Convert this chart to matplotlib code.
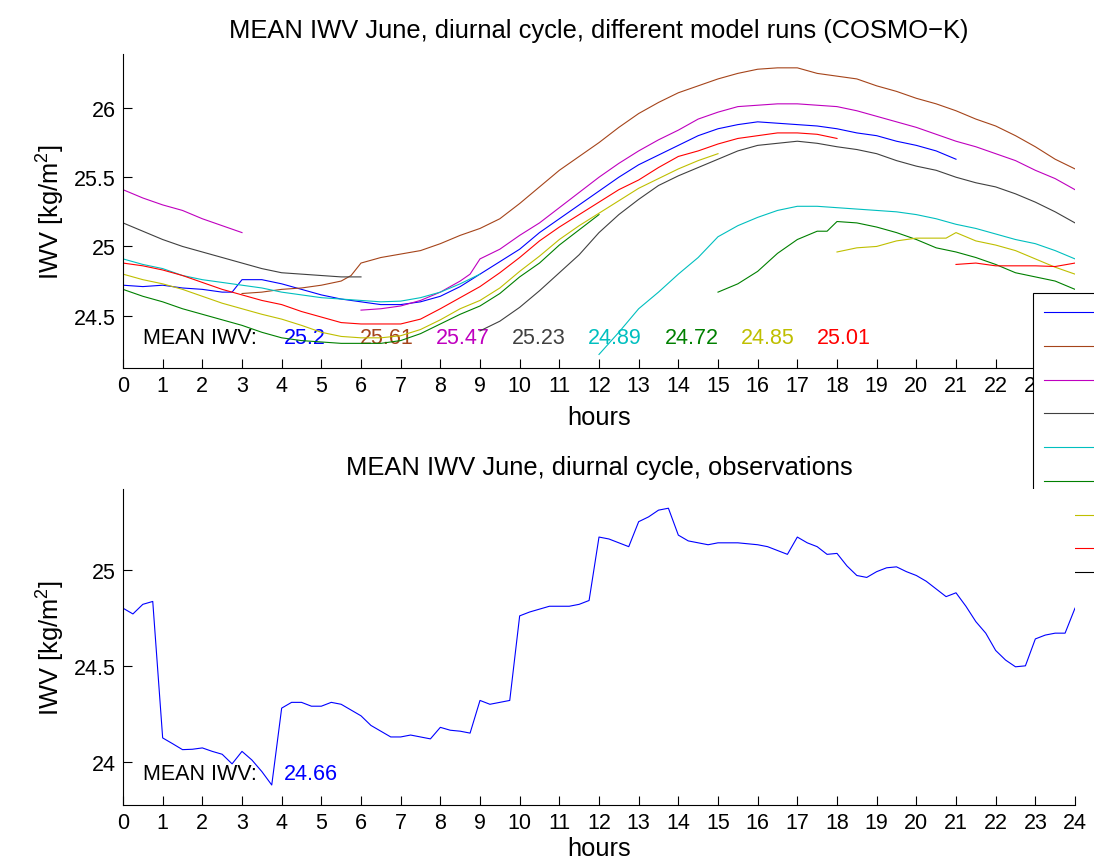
import numpy as np
import matplotlib
matplotlib.use('Agg')
import matplotlib.pyplot as plt
from matplotlib.ticker import FormatStrFormatter

plt.rcParams['font.family'] = ['Liberation Sans', 'DejaVu Sans']
plt.rcParams['mathtext.default'] = 'regular'

# model runs (COSMO-K), 0.5 h readings, one entry per run
run_labels = ['00 UTC', '03 UTC', '06 UTC', '09 UTC', '12 UTC', '15 UTC', '18 UTC', '21 UTC']
run_colors = ['#0000ff', '#a5441a', '#bf00bf', '#404040', '#00bfbf', '#008000', '#bfbf00', '#ff0000']
run_means = [25.2, 25.61, 25.47, 25.23, 24.89, 24.72, 24.85, 25.01]

half = lambda a, b: list(np.arange(a, b + 0.01, 0.5))

blue_h = sorted(half(0, 21) + [2.75])
blue_v = [24.72, 24.71, 24.72, 24.70, 24.69, 24.67, 24.67, 24.76, 24.76, 24.73, 24.69, 24.65, 24.62, 24.60,
          24.58, 24.58, 24.60, 24.64, 24.71, 24.80, 24.89, 24.98, 25.10, 25.20, 25.30, 25.40, 25.50, 25.59,
          25.66, 25.73, 25.80, 25.85, 25.88, 25.90, 25.89, 25.88, 25.87, 25.85, 25.82, 25.80, 25.76, 25.73,
          25.69, 25.63]

brown_h = sorted(half(3, 24) + [5.75])
brown_v = [24.66, 24.67, 24.69, 24.70, 24.72, 24.75, 24.79, 24.88, 24.92, 24.945, 24.97, 25.02, 25.08, 25.13,
           25.20, 25.31, 25.43, 25.55, 25.65, 25.75, 25.86, 25.96, 26.04, 26.11, 26.16, 26.21, 26.25, 26.28,
           26.29, 26.29, 26.25, 26.23, 26.21, 26.16, 26.12, 26.07, 26.03, 25.98, 25.92, 25.87, 25.80, 25.72,
           25.63, 25.56]

magenta_h1 = half(0, 3)
magenta_v1 = [25.41, 25.35, 25.30, 25.26, 25.20, 25.15, 25.10]
magenta_h2 = sorted(half(6, 24) + [8.75])
magenta_v2 = [24.54, 24.55, 24.57, 24.61, 24.67, 24.75, 24.80, 24.91, 24.98, 25.08, 25.17, 25.28, 25.39, 25.50,
              25.60, 25.69, 25.77, 25.84, 25.92, 25.97, 26.01, 26.02, 26.03, 26.03, 26.02, 26.01, 25.98, 25.94,
              25.90, 25.86, 25.81, 25.76, 25.72, 25.67, 25.62, 25.55, 25.49, 25.41]

gray_h1 = half(0, 6)
gray_v1 = [25.17, 25.11, 25.05, 25.00, 24.96, 24.92, 24.88, 24.84, 24.81, 24.80, 24.79, 24.78, 24.78]
gray_h2 = half(9, 24)
gray_v2 = [24.39, 24.46, 24.56, 24.68, 24.81, 24.94, 25.10, 25.23, 25.34, 25.44, 25.51, 25.57, 25.63, 25.69,
           25.73, 25.745, 25.76, 25.745, 25.72, 25.70, 25.67, 25.62, 25.58, 25.55, 25.50, 25.46, 25.43, 25.38,
           25.32, 25.25, 25.17]

cyan_h1 = half(0, 9)
cyan_v1 = [24.91, 24.87, 24.84, 24.79, 24.76, 24.74, 24.72, 24.70, 24.67, 24.65, 24.63, 24.62, 24.61, 24.60,
           24.605, 24.63, 24.67, 24.73, 24.80]
cyan_h2 = half(12, 24)
cyan_v2 = [24.22, 24.38, 24.55, 24.67, 24.80, 24.92, 25.07, 25.15, 25.21, 25.26, 25.29, 25.29, 25.28, 25.27,
           25.26, 25.25, 25.23, 25.20, 25.16, 25.13, 25.09, 25.05, 25.02, 24.97, 24.91]

green_h1 = half(0, 12)
green_v1 = [24.69, 24.64, 24.60, 24.55, 24.51, 24.47, 24.43, 24.38, 24.34, 24.32, 24.31, 24.30, 24.30, 24.30,
            24.32, 24.37, 24.44, 24.51, 24.57, 24.66, 24.78, 24.88, 25.01, 25.12, 25.23]
green_h2 = sorted(half(15, 24) + [17.75])
green_v2 = [24.67, 24.73, 24.82, 24.95, 25.05, 25.11, 25.11, 25.18, 25.17, 25.14, 25.10, 25.05, 24.99, 24.96,
            24.92, 24.87, 24.81, 24.78, 24.75, 24.69]

yellow_h1 = half(0, 15)
yellow_v1 = [24.80, 24.76, 24.73, 24.69, 24.64, 24.59, 24.55, 24.51, 24.475, 24.43, 24.38, 24.35, 24.34, 24.34,
             24.355, 24.40, 24.47, 24.55, 24.61, 24.70, 24.82, 24.93, 25.05, 25.15, 25.24, 25.33, 25.42, 25.49,
             25.56, 25.62, 25.67]
yellow_h2 = sorted(half(18, 24) + [20.75])
yellow_v2 = [24.96, 24.99, 25.00, 25.04, 25.06, 25.06, 25.06, 25.10, 25.04, 25.01, 24.97, 24.91, 24.85, 24.80]

red_h1 = half(0, 18)
red_v1 = [24.88, 24.86, 24.83, 24.79, 24.74, 24.69, 24.65, 24.61, 24.58, 24.53, 24.49, 24.45, 24.44, 24.44,
          24.44, 24.475, 24.55, 24.63, 24.71, 24.81, 24.92, 25.04, 25.14, 25.23, 25.32, 25.41, 25.48, 25.57,
          25.65, 25.69, 25.74, 25.78, 25.80, 25.82, 25.82, 25.81, 25.78]
red_h2 = half(21, 24)
red_v2 = [24.87, 24.88, 24.86, 24.86, 24.86, 24.855, 24.88]

runs = [
    [(blue_h, blue_v)],
    [(brown_h, brown_v)],
    [(magenta_h1, magenta_v1), (magenta_h2, magenta_v2)],
    [(gray_h1, gray_v1), (gray_h2, gray_v2)],
    [(cyan_h1, cyan_v1), (cyan_h2, cyan_v2)],
    [(green_h1, green_v1), (green_h2, green_v2)],
    [(yellow_h1, yellow_v1), (yellow_h2, yellow_v2)],
    [(red_h1, red_v1), (red_h2, red_v2)],
]

# observations, every 15 min
obs_h = list(np.arange(0, 24.01, 0.25))
obs_v = [24.80, 24.77, 24.82, 24.835, 24.125, 24.095, 24.064, 24.066, 24.073, 24.055, 24.04, 23.99,
         24.055, 24.01, 23.95, 23.88, 24.28, 24.31, 24.31, 24.29, 24.29, 24.31, 24.30, 24.27,
         24.24, 24.19, 24.16, 24.13, 24.13, 24.14, 24.13, 24.12, 24.18, 24.165, 24.16, 24.15,
         24.32, 24.30, 24.31, 24.32, 24.76, 24.78, 24.795, 24.81, 24.81, 24.81, 24.82, 24.84,
         25.17, 25.16, 25.14, 25.12, 25.25, 25.275, 25.31, 25.32, 25.18, 25.15, 25.14, 25.13,
         25.14, 25.14, 25.14, 25.135, 25.13, 25.12, 25.10, 25.08, 25.17, 25.14, 25.12, 25.08,
         25.085, 25.02, 24.97, 24.96, 24.99, 25.01, 25.015, 24.99, 24.97, 24.94, 24.90, 24.86,
         24.88, 24.81, 24.73, 24.67, 24.58, 24.53, 24.495, 24.50, 24.64, 24.66, 24.67, 24.67, 24.80]
obs_mean = 24.66

FS = 15.5   # ticks and in-axes text
LFS = 18.4  # axis labels and titles
fig = plt.figure(figsize=(10.94, 8.62), dpi=100)
ax1 = fig.add_axes([123/1094, 1 - 369/862, 952/1094, 314/862])
ax2 = fig.add_axes([123/1094, 1 - 806/862, 952/1094, 316/862])

for ax in (ax1, ax2):
    ax.spines['top'].set_visible(False)
    ax.spines['right'].set_visible(False)
    for s in ('left', 'bottom'):
        ax.spines[s].set_linewidth(0.8)
    ax.tick_params(direction='in', length=6.5, width=0.8, labelsize=FS, pad=5)
    ax.set_xlim(0, 24)
    ax.set_xticks(range(25))
    ax.yaxis.set_major_formatter(FormatStrFormatter('%g'))
    ax.set_xlabel('hours', fontsize=LFS)
    ax.set_ylabel('IWV [kg/m$^2$]', fontsize=LFS)
    ax.yaxis.set_label_coords(-0.059, 0.5)

ax1.xaxis.set_label_coords(0.5, -0.118)
ax2.xaxis.set_label_coords(0.5, -0.097)

handles = []
for segs, col in zip(runs, run_colors):
    for k, (h, v) in enumerate(segs):
        ln, = ax1.plot(h, v, color=col, lw=0.8)
        if k == 0:
            handles.append(ln)

ax1.set_ylim(24.122, 26.39)
ax1.set_yticks([24.5, 25, 25.5, 26])
ax1.set_title('MEAN IWV June, diurnal cycle, different model runs (COSMO\u2212K)', fontsize=LFS, pad=12)
ax1.text(0.5, 24.34, 'MEAN IWV:', fontsize=FS, va='center', zorder=1)
for i, (m, col) in enumerate(zip(run_means, run_colors)):
    ax1.text(4.05 + 1.92 * i, 24.34, f'{m:g}', color=col, fontsize=FS, va='center', zorder=1)

# legend sits partly behind the lower axes and runs off the figure edge, as in the original
leg = ax1.legend(handles, [' '] * len(run_labels), loc='upper left',
                 bbox_to_anchor=(1033/1094, 1 - 294/862), bbox_transform=fig.transFigure,
                 borderaxespad=0, fontsize=FS, handlelength=4, handletextpad=0.8,
                 labelspacing=0.592, borderpad=0.5, fancybox=False, framealpha=1)
leg.get_frame().set_edgecolor('black')
leg.get_frame().set_linewidth(0.8)

ax2.plot(obs_h, obs_v, color='#0000ff', lw=0.8)
ax2.set_ylim(23.776, 25.42)
ax2.set_yticks([24, 24.5, 25])
ax2.set_title('MEAN IWV June, diurnal cycle, observations', fontsize=LFS, pad=11)
ax2.text(0.5, 23.94, 'MEAN IWV:', fontsize=FS, va='center', zorder=1)
ax2.text(4.05, 23.94, f'{obs_mean:g}', color='#0000ff', fontsize=FS, va='center', zorder=1)

fig.savefig('out.png', dpi=100)
